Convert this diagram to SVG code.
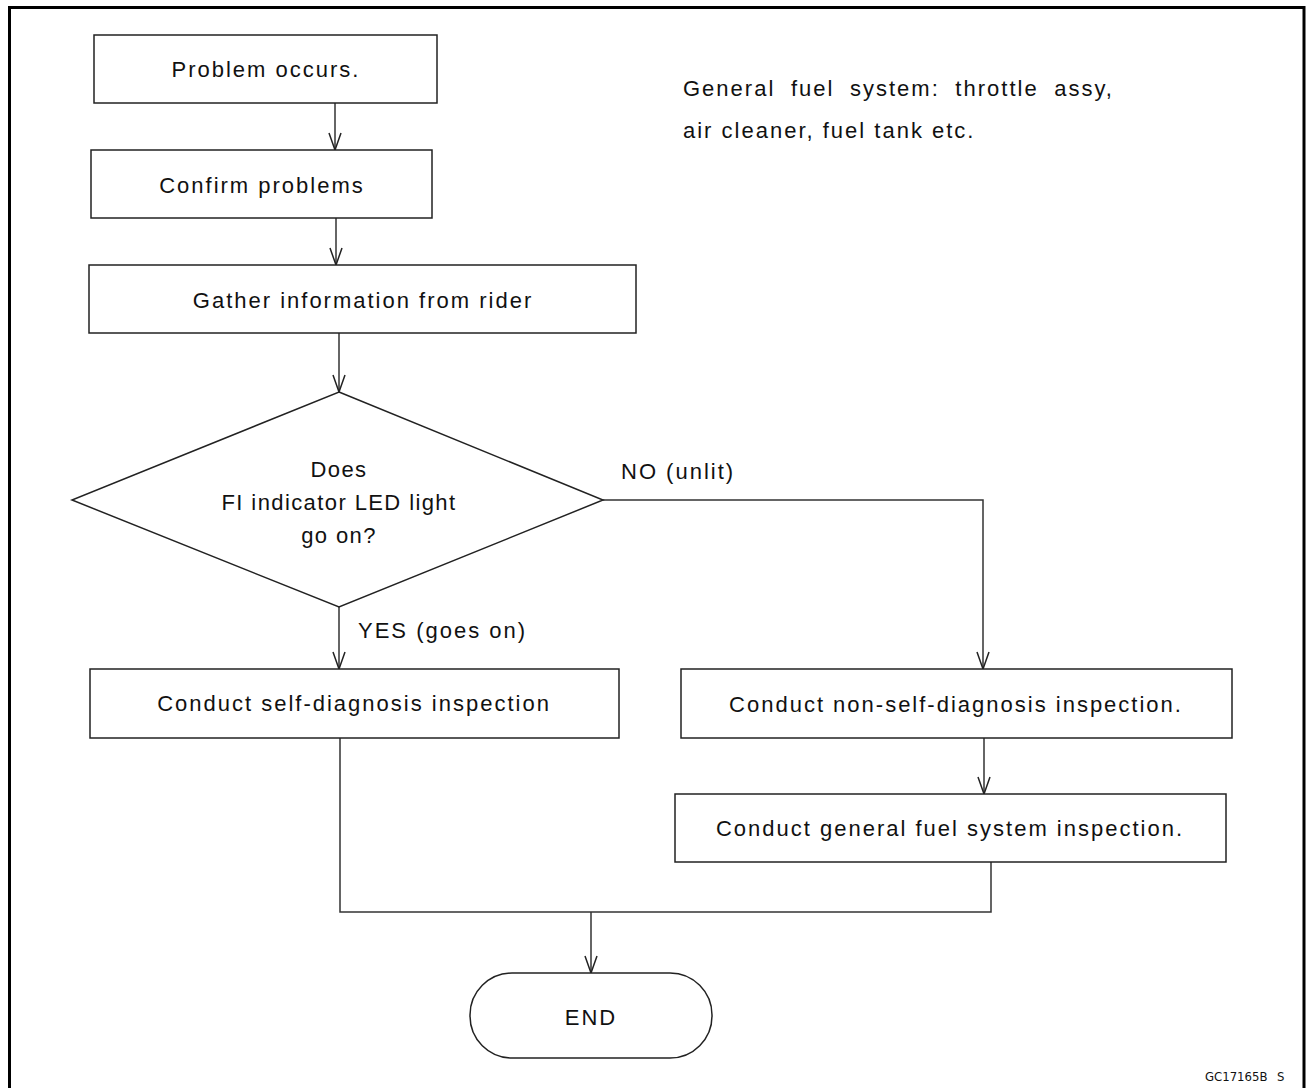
<svg xmlns="http://www.w3.org/2000/svg" width="1309" height="1088" viewBox="0 0 1309 1088">
<style>
.box{fill:#fff;stroke:#222;stroke-width:1.5}
.t{font-family:"Liberation Sans",Arial,sans-serif;font-size:22px;letter-spacing:2px;fill:#111;text-anchor:middle}
.tl{font-family:"Liberation Sans",Arial,sans-serif;font-size:22px;letter-spacing:2px;fill:#111}
.td{letter-spacing:1.4px}
.c{fill:none;stroke:#333;stroke-width:1.5}
.code{font-family:"DejaVu Sans Condensed","Liberation Sans Narrow",sans-serif;font-size:13px;fill:#111}
</style>
<defs>
<marker id="ah" markerWidth="20" markerHeight="14" refX="19" refY="7" orient="auto" markerUnits="userSpaceOnUse" viewBox="0 0 20 14">
<path d="M2,1 L19,7 L2,13" fill="none" stroke="#222" stroke-width="1.5"/>
</marker>
</defs>
<rect width="1309" height="1088" fill="#fff"/>
<path d="M9.5,1095 V7.5 H1304 V1095" fill="none" stroke="#000" stroke-width="3"/>

<g id="connectors">
<line class="c" x1="335" y1="103" x2="335" y2="150" marker-end="url(#ah)"/>
<line class="c" x1="336" y1="218" x2="336" y2="265" marker-end="url(#ah)"/>
<line class="c" x1="339" y1="333" x2="339" y2="392" marker-end="url(#ah)"/>
<line class="c" x1="339" y1="607" x2="339" y2="669" marker-end="url(#ah)"/>
<polyline class="c" points="603,500 983,500 983,669" marker-end="url(#ah)"/>
<line class="c" x1="984" y1="738" x2="984" y2="794" marker-end="url(#ah)"/>
<polyline class="c" points="340,738 340,912 991,912 991,862"/>
<line class="c" x1="591" y1="912" x2="591" y2="973" marker-end="url(#ah)"/>
<text class="tl" x="621" y="479">NO (unlit)</text>
<text class="tl" x="358" y="638">YES (goes on)</text>
</g>

<g id="n1">
<rect class="box" x="94" y="35" width="343" height="68"/>
<text class="t" x="266" y="77">Problem occurs.</text>
</g>
<g id="n2">
<rect class="box" x="91" y="150" width="341" height="68"/>
<text class="t" x="262" y="193">Confirm problems</text>
</g>
<g id="n3">
<rect class="box" x="89" y="265" width="547" height="68"/>
<text class="t" x="363" y="308">Gather information from rider</text>
</g>
<g id="n4">
<polygon class="box" points="339,392 603,500 339,607 72,500"/>
<text class="t td" x="339" y="477">Does</text>
<text class="t td" x="339" y="510">FI indicator LED light</text>
<text class="t td" x="339" y="543">go on?</text>
</g>
<g id="n5">
<rect class="box" x="90" y="669" width="529" height="69"/>
<text class="t" x="354" y="711">Conduct self-diagnosis inspection</text>
</g>
<g id="n6">
<rect class="box" x="681" y="669" width="551" height="69"/>
<text class="t" x="956" y="712">Conduct non-self-diagnosis inspection.</text>
</g>
<g id="n7">
<rect class="box" x="675" y="794" width="551" height="68"/>
<text class="t" x="950" y="836">Conduct general fuel system inspection.</text>
</g>
<g id="n8">
<rect class="box" x="470" y="973" width="242" height="85" rx="42" ry="42"/>
<text class="t" x="591" y="1025">END</text>
</g>
<g id="note">
<text class="tl" x="683" y="96" style="word-spacing:7.5px">General fuel system: throttle assy,</text>
<text class="tl" x="683" y="138">air cleaner, fuel tank etc.</text>
</g>
<text class="code" x="1205" y="1081">GC17165B</text>
<text class="code" x="1277" y="1081">S</text>
</svg>
